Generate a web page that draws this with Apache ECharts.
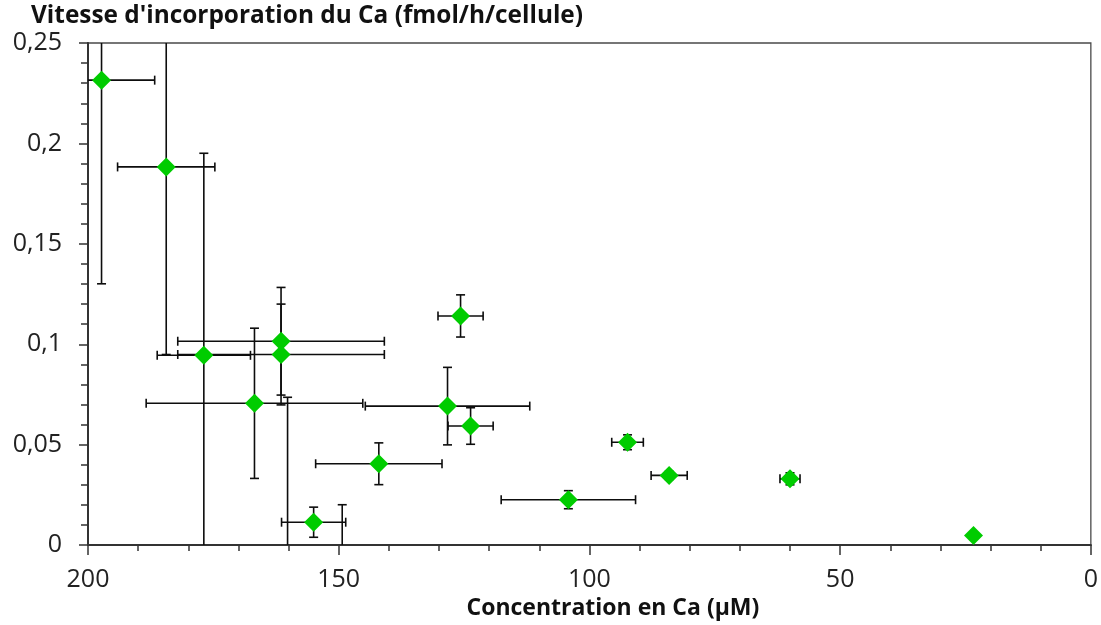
<!DOCTYPE html>
<html>
<head>
<meta charset="utf-8">
<script src="https://cdn.jsdelivr.net/npm/echarts@6/dist/echarts.min.js"></script>
<style>
  html, body { margin: 0; padding: 0; background: #fff; }
  #chart { width: 1101px; height: 625px; }
</style>
</head>
<body>
<div id="chart"></div>
<script>
// concentration en Ca (µM), vitesse (fmol/h/cellule) et écarts
const concentration = [197.3, 184.4, 176.9, 161.5, 161.5, 166.8, 160.2, 149.3, 155.0, 128.3, 123.7, 125.7, 142.0, 104.2, 92.4, 84.1, 60.0, 23.4];
const vitesse = [0.2315, 0.1883, 0.0945, 0.0949, 0.1015, 0.0706, -0.02, -0.01, 0.0114, 0.0692, 0.0593, 0.1141, 0.0405, 0.0226, 0.0512, 0.0347, 0.033, 0.0048];
const errConcentration = [10.6, 9.7, 9.3, 20.6, 20.6, 21.6, 5, 5, 6.4, 16.4, 4.5, 4.5, 12.6, 13.4, 3.15, 3.6, 2.0, 0];
const errVitesse = [0.1014, 0.0934, 0.1006, 0.0251, 0.0268, 0.0374, 0.0936, 0.0301, 0.0075, 0.0193, 0.0091, 0.0105, 0.0104, 0.0045, 0.0037, 0.002, 0.003, 0];

const xTicks = [0, 200, 50];
const yTicks = [0, 0.25, 0.05];

const points = concentration.map((c, i) => [c, vitesse[i]]);
const bars = concentration.map((c, i) => [c, vitesse[i], errConcentration[i], errVitesse[i]]);

const FONT = '"Open Sans", "Liberation Sans", sans-serif';
const CAP = 4.5;

function seg(x1, y1, x2, y2) {
  return {
    type: 'line',
    shape: { x1, y1, x2, y2 },
    style: { stroke: '#0d0d0d', lineWidth: 1.6 },
  };
}

function renderErrorBars(params, api) {
  const x = api.value(0);
  const y = api.value(1);
  const dx = api.value(2);
  const dy = api.value(3);
  const c = api.coord([x, y]);
  const children = [];
  if (dx > 0) {
    const a = api.coord([x + dx, y])[0];
    const b = api.coord([x - dx, y])[0];
    children.push(seg(a, c[1], b, c[1]));
    children.push(seg(a, c[1] - CAP, a, c[1] + CAP));
    children.push(seg(b, c[1] - CAP, b, c[1] + CAP));
  }
  if (dy > 0) {
    const t = api.coord([x, y + dy])[1];
    const u = api.coord([x, y - dy])[1];
    children.push(seg(c[0], t, c[0], u));
    children.push(seg(c[0] - CAP, t, c[0] + CAP, t));
    children.push(seg(c[0] - CAP, u, c[0] + CAP, u));
  }
  return { type: 'group', children };
}

const chart = echarts.init(document.getElementById('chart'));
chart.setOption({
  animation: false,
  title: {
    text: "Vitesse d'incorporation du Ca (fmol/h/cellule)",
    left: 31,
    top: 4,
    padding: 0,
    textStyle: { fontFamily: FONT, fontSize: 24.4, fontWeight: 'bold', color: '#111' },
  },
  grid: {
    left: 88,
    right: 9,
    top: 43,
    bottom: 78,
    show: true,
    borderColor: '#4a4a4a',
    borderWidth: 1.3,
  },
  xAxis: {
    type: 'value',
    inverse: true,
    min: xTicks[0],
    max: xTicks[1],
    interval: xTicks[2],
    name: 'Concentration en Ca (µM)',
    nameLocation: 'middle',
    nameGap: 49,
    nameTextStyle: { fontFamily: FONT, fontSize: 23, fontWeight: 'bold', color: '#111', padding: [0, 0, 0, 47] },
    axisLine: { onZero: false, lineStyle: { color: '#333', width: 2 } },
    axisTick: { length: 10, lineStyle: { color: '#333', width: 1.5 } },
    minorTick: { show: true, splitNumber: 5, length: 6, lineStyle: { color: '#333', width: 1.5 } },
    splitLine: { show: false },
    axisLabel: { fontFamily: FONT, fontSize: 25, color: '#222', margin: 22 },
  },
  yAxis: {
    type: 'value',
    min: yTicks[0],
    max: yTicks[1],
    interval: yTicks[2],
    axisLine: { show: true, onZero: false, lineStyle: { color: '#333', width: 2 } },
    axisTick: { show: true, length: 9, lineStyle: { color: '#333', width: 1.5 } },
    minorTick: { show: true, splitNumber: 5, length: 7, lineStyle: { color: '#333', width: 1.5 } },
    splitLine: { show: false },
    axisLabel: {
      fontFamily: FONT,
      fontSize: 25,
      color: '#222',
      margin: 26,
      formatter: (v) => String(+v.toFixed(3)).replace('.', ','),
    },
  },
  series: [
    {
      type: 'custom',
      data: bars,
      encode: { x: 0, y: 1 },
      renderItem: renderErrorBars,
      clip: true,
      z: 2,
    },
    {
      type: 'scatter',
      data: points,
      symbol: 'diamond',
      symbolSize: 19,
      itemStyle: { color: '#00cc00', opacity: 1 },
      clip: true,
      z: 3,
    },
  ],
});
</script>
</body>
</html>
